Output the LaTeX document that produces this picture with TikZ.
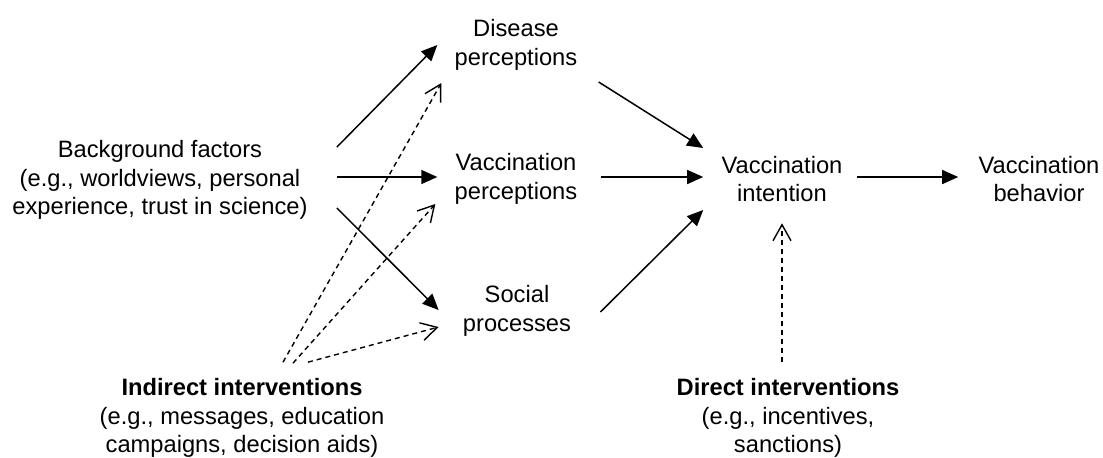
\documentclass[tikz,border=0pt]{standalone}
\usepackage{fontspec}
\setmainfont{Liberation Sans}
\usetikzlibrary{arrows.meta}

\begin{document}
\begin{tikzpicture}[x=0.5pt, y=-0.5pt,
  every node/.style={font=\fontsize{11.85}{14.2}\selectfont, align=center, inner sep=0pt},
  effect/.style={line width=0.75pt, -{Triangle[length=8pt,width=7pt]}},
  nudge/.style={line width=0.7pt, dash pattern=on 2.5pt off 2pt, -{Straight Barb[length=8pt,width=9pt]}}]
  \useasboundingbox (0,0) rectangle (1103,457);

  % Factors left
  \node (bg) at (160,180) {Background factors\\(e.g., worldviews, personal\\experience, trust in science)};

  % Perceptions middle
  \node (dis) at (516,45) {Disease\\perceptions};
  \node (vp) at (516,179) {Vaccination\\perceptions};
  \node (soc) at (517,311) {Social\\processes};

  % Outcomes right
  \node (int) at (782,179) {Vaccination\\intention};
  \node (beh) at (1039,179) {Vaccination\\behavior};

  % Interventions bottom
  \node (ind) at (242,418) {\textbf{Indirect interventions}\\(e.g., messages, education\\campaigns, decision aids)};
  \node (dir) at (788,418) {\textbf{Direct interventions}\\(e.g., incentives,\\sanctions)};

  % Background to perceptions
  \draw[effect] ([shift={(29,-33)}]bg.east) -- ([shift={(-17,0)}]dis.west);
  \draw[effect] ([shift={(29,-3)}]bg.east) -- ([shift={(-17,-2)}]vp.west);
  \draw[effect] ([shift={(29,28)}]bg.east) -- ([shift={(-24,-1)}]soc.west);

  % Perceptions to intention
  \draw[effect] ([shift={(21,37)}]dis.east) -- ([shift={(-18,-31)}]int.west);
  \draw[effect] ([shift={(23,-2)}]vp.east) -- ([shift={(-18,-2)}]int.west);
  \draw[effect] ([shift={(29,1)}]soc.east) -- ([shift={(-18,31)}]int.west);
  \draw[effect] ([shift={(14,-2)}]int.east) -- ([shift={(-20,-2)}]beh.west);

  % Interventions
  \draw[nudge] ([shift={(41,-16)}]ind.north) -- ([shift={(-13,38)}]dis.west);
  \draw[nudge] ([shift={(51,-15)}]ind.north) -- ([shift={(-19,25)}]vp.west);
  \draw[nudge] ([shift={(66,-16)}]ind.north) -- ([shift={(-24,16)}]soc.west);
  \draw[nudge] ([shift={(-6,-16)}]dir.north) -- ([shift={(0,21)}]int.south);
\end{tikzpicture}
\end{document}
